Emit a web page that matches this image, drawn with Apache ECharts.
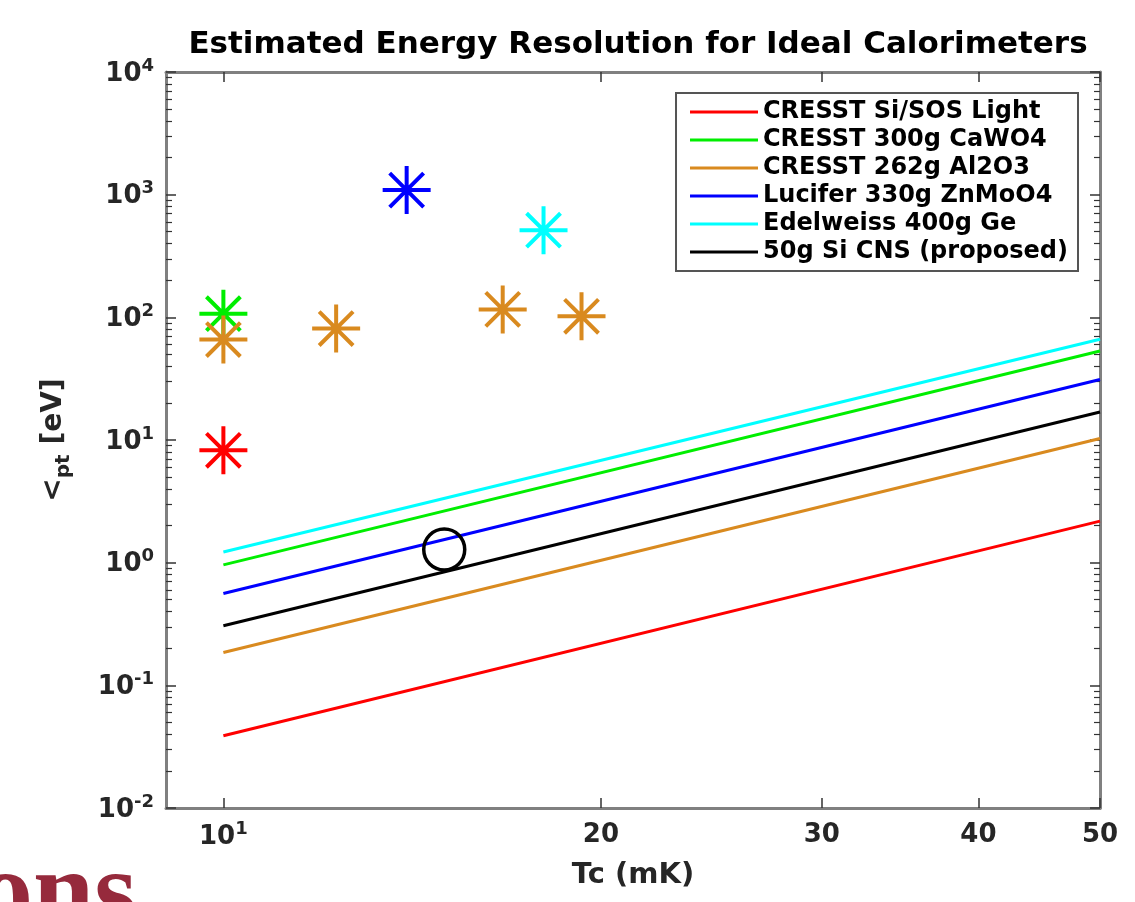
<!DOCTYPE html>
<html>
<head>
<meta charset="utf-8">
<title>Estimated Energy Resolution for Ideal Calorimeters</title>
<script src="https://cdn.jsdelivr.net/npm/echarts@6/dist/echarts.min.js"></script>
<style>
  html, body { margin: 0; padding: 0; background: #fff; }
  #chart { width: 1135px; height: 902px; }
</style>
</head>
<body>
<div id="chart"></div>
<script>
// Tc range of the model curves (mK)
const tcEnds = [10, 50]

// model curves: sigma_pt [eV] at Tc = 10 and 50 mK
const lineNames = [
  'CRESST Si/SOS Light',
  'CRESST 300g CaWO4',
  'CRESST 262g Al2O3',
  'Lucifer 330g ZnMoO4',
  'Edelweiss 400g Ge',
  '50g Si CNS (proposed)'
]
const sigmaLight = [0.0388, 2.18]
const sigmaCaWO4 = [0.96, 53.2]
const sigmaAl2O3 = [0.185, 10.3]
const sigmaZnMoO4 = [0.56, 31.1]
const sigmaGe = [1.22, 66.3]
const sigmaCNS = [0.306, 16.9]

// measured detectors [Tc, sigma]
const measLight = [[10, 8.24]]
const measCaWO4 = [[10, 107]]
const measAl2O3 = [[10, 65.9], [12.3, 81], [16.7, 116], [19.3, 102]]
const measZnMoO4 = [[14.0, 1089]]
const measGe = [[18.0, 513]]
const proposedCNS = [[15.0, 1.28]]

// ticks
const xTicks = [10, 20, 30, 40, 50]
const yTicks = [0.01, 0.1, 1, 10, 100, 1000, 10000]

const colors = ['#ff0000', '#00ee00', '#d98a1f', '#0000ff', '#00ffff', '#000000']

// minor ticks 2..9 in every decade
const yMinor = []
for (let i = 0; i < yTicks.length - 1; i++) {
  for (let k = 2; k <= 9; k++) yMinor.push(+(yTicks[i] * k).toPrecision(3))
}

const curves = [sigmaLight, sigmaCaWO4, sigmaAl2O3, sigmaZnMoO4, sigmaGe, sigmaCNS]
const measured = [measLight, measCaWO4, measAl2O3, measZnMoO4, measGe]

const asterisk = 'path://M0,-10L0,10M-10,0L10,0M-7.07,-7.07L7.07,7.07M-7.07,7.07L7.07,-7.07'

const font = '"DejaVu Sans", Verdana, sans-serif'
const axisGray = '#808080'
const tickColor = '#333'

const pow10Label = v => {
  const e = Math.round(Math.log10(v))
  return '{b|10}{s|' + e + '}'
}
const labelRich = {
  b: { fontSize: 26, fontWeight: 'bold', color: '#262626', fontFamily: font, lineHeight: 30, verticalAlign: 'bottom' },
  s: { fontSize: 18, fontWeight: 'bold', color: '#262626', fontFamily: font, lineHeight: 30, verticalAlign: 'top' },
  n: { fontSize: 26, fontWeight: 'bold', color: '#262626', fontFamily: font, lineHeight: 30 }
}

const chart = echarts.init(document.getElementById('chart'))

const series = []
curves.forEach((c, i) => {
  series.push({
    name: lineNames[i],
    type: 'line',
    data: tcEnds.map((t, j) => [t, c[j]]),
    showSymbol: false,
    symbol: 'none',
    lineStyle: { color: colors[i], width: 3 },
    itemStyle: { color: colors[i] },
    silent: true,
    z: 3
  })
})
measured.forEach((m, i) => {
  series.push({
    name: 'meas-' + i,
    type: 'scatter',
    data: m,
    symbol: asterisk,
    symbolSize: 48,
    itemStyle: { color: 'none', borderColor: colors[i], borderWidth: 4, opacity: 1 },
    z: 4
  })
})
series.push({
  name: 'proposed',
  type: 'scatter',
  data: proposedCNS,
  symbol: 'circle',
  symbolSize: 41,
  itemStyle: { color: 'none', borderColor: '#000', borderWidth: 3.5, opacity: 1 },
  z: 5
})

chart.setOption({
  animation: false,
  backgroundColor: '#fff',
  title: {
    text: 'Estimated Energy Resolution for Ideal Calorimeters',
    left: 633,
    textAlign: 'center',
    top: 24,
    textStyle: { fontFamily: font, fontSize: 31, fontWeight: 'bold', color: '#000' }
  },
  legend: {
    data: lineNames,
    orient: 'vertical',
    right: 57,
    top: 93,
    icon: 'rect',
    itemWidth: 68,
    itemHeight: 3,
    itemGap: 4,
    padding: [7, 10, 7, 14],
    borderColor: '#555',
    borderWidth: 2,
    backgroundColor: '#fff',
    selectedMode: false,
    textStyle: { fontFamily: font, fontSize: 24, fontWeight: 'bold', color: '#000', lineHeight: 24 }
  },
  grid: { left: 166, right: 35, top: 72, bottom: 94 },
  xAxis: [{
    type: 'log',
    min: 9,
    max: 50,
    position: 'bottom',
    name: 'Tc (mK)',
    nameLocation: 'middle',
    nameGap: 53,
    nameTextStyle: { fontFamily: font, fontSize: 29, fontWeight: 'bold', color: '#262626' },
    axisLine: { show: true, onZero: false, lineStyle: { color: axisGray, width: 3 } },
    axisTick: { show: true, inside: true, length: 10, customValues: xTicks, lineStyle: { color: tickColor, width: 1.5 } },
    axisLabel: {
      customValues: xTicks,
      margin: 12,
      formatter: v => (Math.abs(v - 10) < 1e-6 ? '{b|10}{s|1}' : '{n|' + Math.round(v) + '}'),
      rich: labelRich
    },
    splitLine: { show: false }
  }, {
    type: 'log',
    min: 9,
    max: 50,
    position: 'top',
    axisLine: { show: true, onZero: false, lineStyle: { color: axisGray, width: 3 } },
    axisTick: { show: true, inside: true, length: 10, customValues: xTicks, lineStyle: { color: tickColor, width: 1.5 } },
    axisLabel: { show: false },
    splitLine: { show: false }
  }],
  yAxis: [{
    type: 'log',
    min: 0.01,
    max: 10000,
    position: 'left',
    name: '{a|<}{p|pt}{a| [eV]}',
    nameLocation: 'middle',
    nameRotate: 90,
    nameGap: 92,
    nameTextStyle: {
      rich: {
        a: { fontFamily: font, fontSize: 28, fontWeight: 'bold', color: '#262626', lineHeight: 34, verticalAlign: 'top' },
        p: { fontFamily: font, fontSize: 20, fontWeight: 'bold', color: '#262626', lineHeight: 34, verticalAlign: 'bottom' }
      }
    },
    axisLine: { show: true, onZero: false, lineStyle: { color: axisGray, width: 3 } },
    axisTick: { show: true, inside: true, length: 10, customValues: yTicks, lineStyle: { color: tickColor, width: 1.5 } },
    axisLabel: { customValues: yTicks, margin: 12, formatter: pow10Label, rich: labelRich },
    splitLine: { show: false }
  }, {
    type: 'log',
    min: 0.01,
    max: 10000,
    position: 'left',
    axisLine: { show: false },
    axisTick: { show: true, inside: true, length: 6, customValues: yMinor, lineStyle: { color: tickColor, width: 1.2 } },
    axisLabel: { show: false },
    splitLine: { show: false }
  }, {
    type: 'log',
    min: 0.01,
    max: 10000,
    position: 'right',
    axisLine: { show: true, onZero: false, lineStyle: { color: axisGray, width: 3 } },
    axisTick: { show: true, inside: true, length: 10, customValues: yTicks, lineStyle: { color: tickColor, width: 1.5 } },
    axisLabel: { show: false },
    splitLine: { show: false }
  }, {
    type: 'log',
    min: 0.01,
    max: 10000,
    position: 'right',
    axisLine: { show: false },
    axisTick: { show: true, inside: true, length: 6, customValues: yMinor, lineStyle: { color: tickColor, width: 1.2 } },
    axisLabel: { show: false },
    splitLine: { show: false }
  }],
  graphic: [{
    type: 'text',
    left: -22,
    top: 843,
    silent: true,
    style: {
      text: 'ons',
      font: 'bold 110px "Liberation Serif", serif',
      fill: '#962a3c'
    },
    z: 100
  }],
  series: series
})
</script>
</body>
</html>
